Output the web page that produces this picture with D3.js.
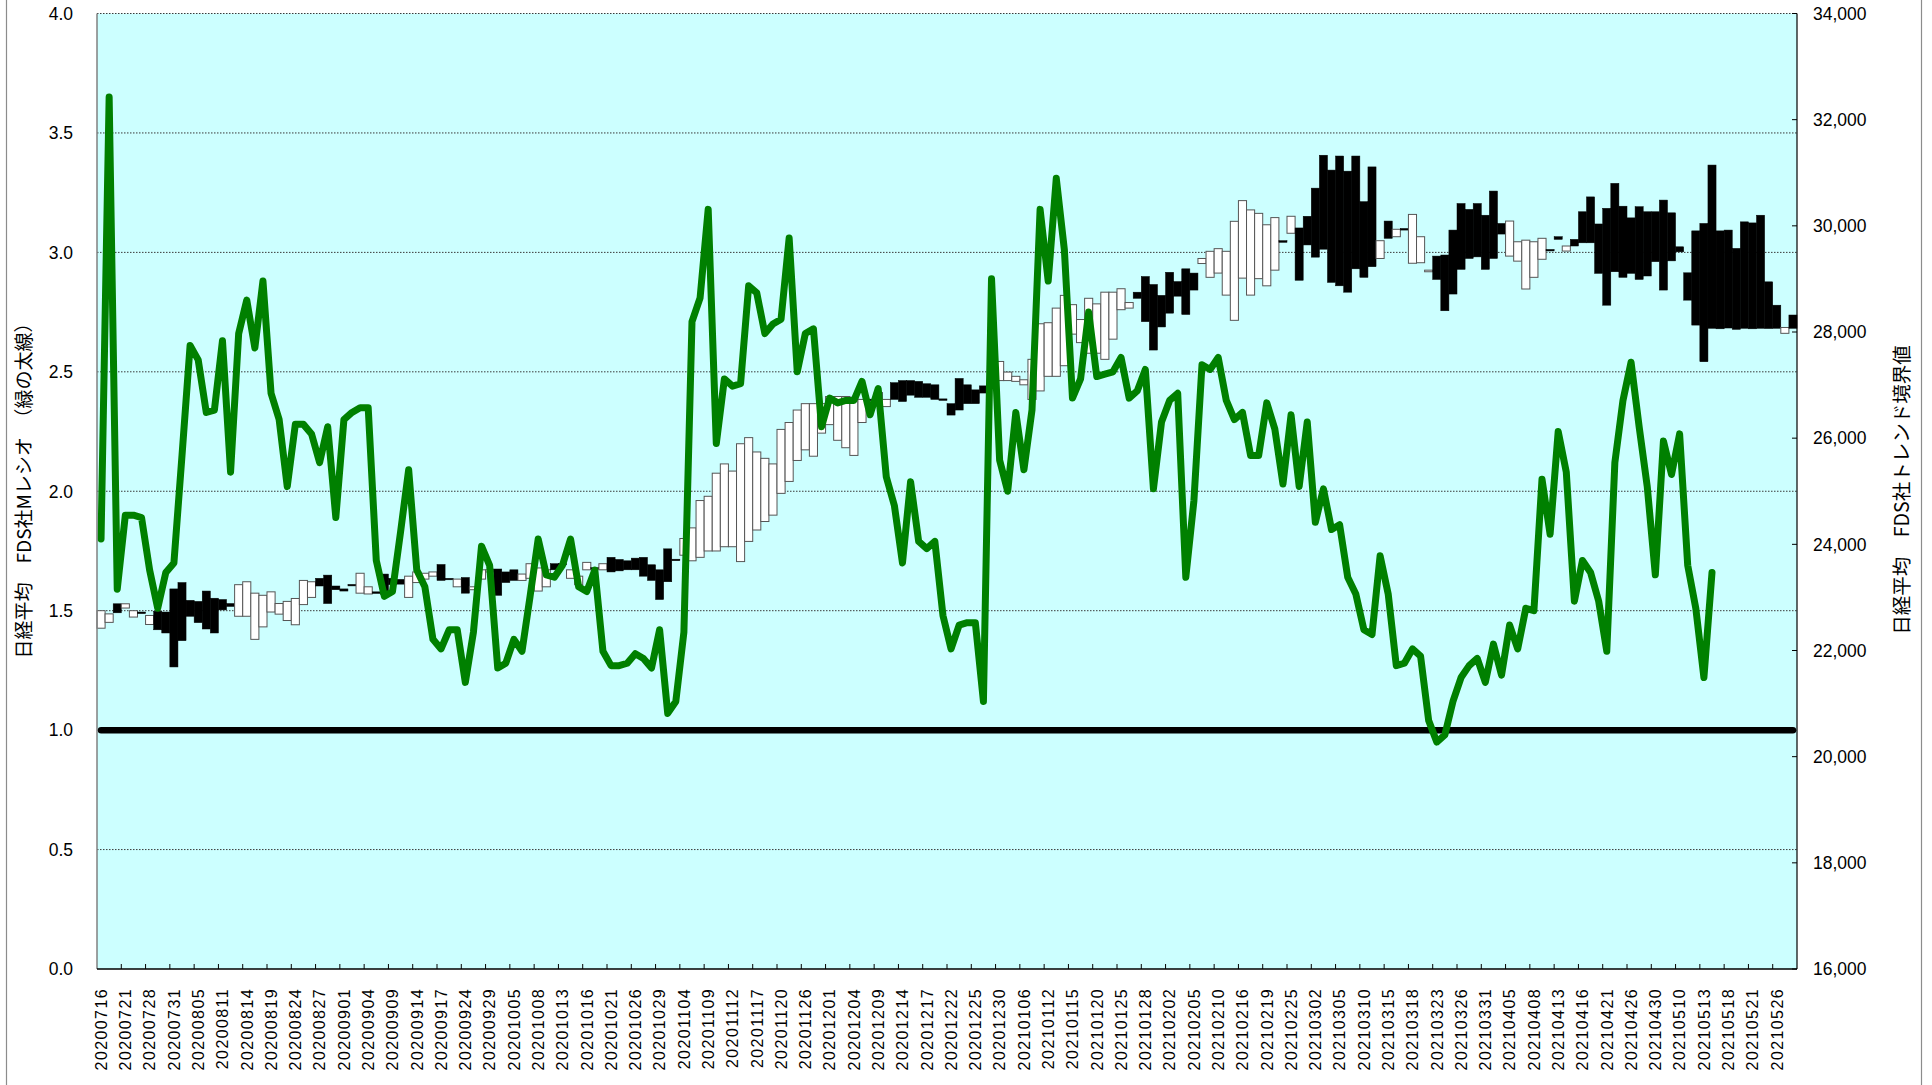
<!DOCTYPE html>
<html>
<head>
<meta charset="utf-8">
<script src="https://cdn.jsdelivr.net/npm/d3@7"></script>
<style>
  body { margin: 0; background: #fff; }
  svg { display: block; }
</style>
</head>
<body>
<div id="app"></div>
<script>
// trading days (categories)
const dates = [
  '20200716','20200717','20200720','20200721','20200722','20200727','20200728','20200729','20200730','20200731',
  '20200803','20200804','20200805','20200806','20200807','20200811','20200812','20200813','20200814','20200817',
  '20200818','20200819','20200820','20200821','20200824','20200825','20200826','20200827','20200828','20200831',
  '20200901','20200902','20200903','20200904','20200907','20200908','20200909','20200910','20200911','20200914',
  '20200915','20200916','20200917','20200918','20200923','20200924','20200925','20200928','20200929','20200930',
  '20201002','20201005','20201006','20201007','20201008','20201009','20201012','20201013','20201014','20201015',
  '20201016','20201019','20201020','20201021','20201022','20201023','20201026','20201027','20201028','20201029',
  '20201030','20201102','20201104','20201105','20201106','20201109','20201110','20201111','20201112','20201113',
  '20201116','20201117','20201118','20201119','20201120','20201124','20201125','20201126','20201127','20201130',
  '20201201','20201202','20201203','20201204','20201207','20201208','20201209','20201210','20201211','20201214',
  '20201215','20201216','20201217','20201218','20201221','20201222','20201223','20201224','20201225','20201228',
  '20201229','20201230','20210104','20210105','20210106','20210107','20210108','20210112','20210113','20210114',
  '20210115','20210118','20210119','20210120','20210121','20210122','20210125','20210126','20210127','20210128',
  '20210129','20210201','20210202','20210203','20210204','20210205','20210208','20210209','20210210','20210212',
  '20210215','20210216','20210217','20210218','20210219','20210222','20210224','20210225','20210226','20210301',
  '20210302','20210303','20210304','20210305','20210308','20210309','20210310','20210311','20210312','20210315',
  '20210316','20210317','20210318','20210319','20210322','20210323','20210324','20210325','20210326','20210329',
  '20210330','20210331','20210401','20210402','20210405','20210406','20210407','20210408','20210409','20210412',
  '20210413','20210414','20210415','20210416','20210419','20210420','20210421','20210422','20210423','20210426',
  '20210427','20210428','20210430','20210506','20210507','20210510','20210511','20210512','20210513','20210514',
  '20210517','20210518','20210519','20210520','20210521','20210524','20210525','20210526','20210527','20210528'
]

// bar start / end values (right axis)
const openVals = [
  22420,22530,22880,22800,22630,22725,22490,22740,22725,23160,
  23280,22945,22925,23120,22985,22960,22885,22645,22645,22210,
  22445,22725,22685,22565,22485,22865,23000,23360,23420,23215,
  23160,23245,23080,23065,23105,23440,23360,23340,23000,23280,
  23345,23400,23620,23360,23200,23375,23145,23345,23480,23535,
  23480,23520,23320,23360,23120,23200,23635,23640,23360,23240,
  23520,23560,23520,23755,23715,23690,23740,23755,23615,23520,
  23915,23720,23795,23690,23755,23875,23875,23955,23955,23675,
  24055,24270,24430,24550,24960,25185,25580,25780,25660,26095,
  26255,25960,25820,25675,26295,26735,26865,26595,27045,27085,
  27085,27070,27025,27005,26740,26650,27125,27005,26910,26985,
  27005,27085,27085,27070,27005,26730,26890,27165,27165,27365,
  27960,27800,27600,27600,27485,27865,28420,28450,28750,29045,
  28895,28690,29125,28950,29190,29110,29290,29030,29110,28695,
  28220,29015,28695,29005,28870,29165,29720,29860,29960,30180,
  30710,31330,31050,31315,31030,31315,30455,31110,29385,30090,
  29795,29950,29295,29305,29135,29430,29450,29920,30420,30310,
  30420,30200,30655,30045,29430,29335,28810,29030,29370,29555,
  29795,29525,29745,30265,30545,30035,30330,30800,30370,30150,
  30360,30265,30265,30485,30245,29605,29115,29905,30045,31145,
  29905,29920,29575,30075,30055,30200,28945,28505,27975,28320
]
const closeVals = [
  22750,22690,22710,22880,22750,22695,22660,22390,22330,21690,
  22185,22645,22525,22405,22330,22765,22830,23240,23295,23080,
  23040,23105,22885,22925,22980,23320,23295,23215,22885,23145,
  23120,23240,23455,23200,23075,23060,23240,23250,23400,23480,
  23455,23480,23320,23335,23345,23080,23200,23520,23520,23040,
  23280,23320,23440,23635,23555,23520,23520,23630,23520,23400,
  23660,23555,23635,23480,23500,23520,23520,23400,23320,22960,
  23295,23710,24110,24310,24825,24905,25340,25515,25380,25895,
  26010,25740,25620,25515,26165,26295,26530,26650,26650,26650,
  26785,26785,26785,26770,26730,26725,26650,26730,26730,26690,
  26810,26770,26770,26730,26720,26435,26530,26650,26650,26850,
  27365,27445,27245,27165,27100,27485,28155,28175,28450,28690,
  28515,28235,28635,28530,28750,28750,28815,28555,28635,28195,
  27660,28095,28355,28675,28330,28790,29385,29520,29570,29520,
  30085,30475,30300,30235,30020,30155,29690,30180,28975,29640,
  29410,29560,28935,28870,28750,29190,29030,29230,29720,29765,
  29935,29920,30215,29795,29165,28990,28400,28715,29180,29385,
  29415,29180,29385,29845,30090,29700,29730,29700,29765,29540,
  29745,29620,29620,29680,29680,29105,28505,29135,29030,29105,
  28990,29055,29325,28790,29340,29510,28600,28130,27440,28070,
  28060,28075,28050,28070,28060,28070,28065,28070,28085,28070
]

// M ratio (left axis, green)
const mRatio = [
  1.80,3.65,1.59,1.90,1.90,1.89,1.67,1.51,1.66,1.70,
  2.15,2.61,2.55,2.33,2.34,2.63,2.08,2.66,2.80,2.60,
  2.88,2.41,2.30,2.02,2.28,2.28,2.24,2.12,2.27,1.89,
  2.30,2.33,2.35,2.35,1.71,1.56,1.58,1.83,2.09,1.67,
  1.60,1.38,1.34,1.42,1.42,1.20,1.41,1.77,1.69,1.26,
  1.28,1.38,1.33,1.56,1.80,1.65,1.64,1.69,1.80,1.60,
  1.58,1.67,1.33,1.27,1.27,1.28,1.32,1.30,1.26,1.42,
  1.07,1.12,1.41,2.71,2.81,3.18,2.20,2.47,2.44,2.45,
  2.86,2.83,2.66,2.70,2.72,3.06,2.50,2.66,2.68,2.27,
  2.39,2.37,2.38,2.38,2.46,2.32,2.43,2.06,1.94,1.70,
  2.04,1.79,1.76,1.79,1.48,1.34,1.44,1.45,1.45,1.12,
  2.89,2.13,2.00,2.33,2.09,2.34,3.18,2.88,3.31,3.01,
  2.39,2.47,2.75,2.48,2.49,2.50,2.56,2.39,2.42,2.51,
  2.01,2.29,2.38,2.41,1.64,1.96,2.53,2.51,2.56,2.38,
  2.30,2.33,2.15,2.15,2.37,2.26,2.03,2.32,2.02,2.29,
  1.87,2.01,1.84,1.86,1.64,1.57,1.42,1.40,1.73,1.57,
  1.27,1.28,1.34,1.31,1.04,0.95,0.98,1.12,1.22,1.27,
  1.30,1.20,1.36,1.23,1.44,1.34,1.51,1.50,2.05,1.82,
  2.25,2.08,1.54,1.71,1.66,1.54,1.33,2.12,2.38,2.54,
  2.27,2.02,1.65,2.21,2.07,2.24,1.69,1.51,1.22,1.66
]

const baseLevel = 1.0
const leftTicks = [0, 0.5, 1, 1.5, 2, 2.5, 3, 3.5, 4]
const rightTicks = [16000, 18000, 20000, 22000, 24000, 26000, 28000, 30000, 32000, 34000]
const leftTitle = '日経平均　FDS社Mレシオ　（緑の太線）'
const rightTitle = '日経平均　FDS社トレンド境界値'

const w = 1932
const h = 1085
const padLeft = 97, padRight = 1797, padTop = 13.5, padBottom = 969
const numFont = '"Liberation Sans", Arial, sans-serif'
const jpFont = '"Noto Sans CJK JP", "Noto Sans", sans-serif'

const svg = d3.select('#app').append('svg')
              .attr('width', w)
              .attr('height', h)

// chart frame
svg.append('rect')
   .attr('x', 6.5).attr('y', -5)
   .attr('width', 1915).attr('height', h + 10)
   .attr('fill', '#fff')
   .attr('stroke', '#8c8c8c')
   .attr('stroke-width', 1.2)

// plot background
svg.append('rect')
   .attr('x', padLeft).attr('y', padTop)
   .attr('width', padRight - padLeft).attr('height', padBottom - padTop)
   .attr('fill', '#ccffff')

const x = d3.scaleBand().domain(dates).range([padLeft, padRight])
const bw = x.bandwidth()
const cx = d => x(d) + bw / 2
const yL = d3.scaleLinear().domain([0, 4]).range([padBottom, padTop])
const yR = d3.scaleLinear().domain([16000, 34000]).range([padBottom, padTop])

// grid
svg.append('g').selectAll('line')
   .data(leftTicks.filter(v => v > 0))
   .enter().append('line')
   .attr('x1', padLeft).attr('x2', padRight)
   .attr('y1', d => yL(d)).attr('y2', d => yL(d))
   .attr('stroke', '#3a3a3a')
   .attr('stroke-width', 1)
   .attr('stroke-dasharray', '1.5,1.5')

// bars
const bars = dates.map((d, i) => ({ d: d, o: openVals[i], c: closeVals[i] }))
svg.append('g').selectAll('rect')
   .data(bars)
   .enter().append('rect')
   .attr('x', b => x(b.d))
   .attr('width', bw)
   .attr('y', b => yR(Math.max(b.o, b.c)))
   .attr('height', b => Math.max(1.5, Math.abs(yR(b.o) - yR(b.c))))
   .attr('fill', b => b.c > b.o ? '#fff' : '#000')
   .attr('stroke', b => b.c > b.o ? '#555' : '#000')
   .attr('stroke-width', b => b.c > b.o ? 1 : 0.5)

// 1.0 line
const flatLine = d3.line()
                   .x(d => cx(d))
                   .y(() => yL(baseLevel))
svg.append('path')
   .datum(dates)
   .attr('d', flatLine)
   .attr('fill', 'none')
   .attr('stroke', '#000')
   .attr('stroke-width', 6.5)
   .attr('stroke-linecap', 'round')

// M ratio line
const ratioLine = d3.line()
                    .x((d, i) => cx(dates[i]))
                    .y(d => yL(d))
svg.append('path')
   .datum(mRatio)
   .attr('d', ratioLine)
   .attr('fill', 'none')
   .attr('stroke', '#008000')
   .attr('stroke-width', 7)
   .attr('stroke-linejoin', 'round')
   .attr('stroke-linecap', 'round')

// axis lines
svg.append('line').attr('x1', padLeft).attr('x2', padLeft).attr('y1', padTop).attr('y2', padBottom)
   .attr('stroke', '#808080').attr('stroke-width', 1.5)
svg.append('line').attr('x1', padRight).attr('x2', padRight).attr('y1', padTop).attr('y2', padBottom)
   .attr('stroke', '#000').attr('stroke-width', 1.2)
svg.append('line').attr('x1', padLeft).attr('x2', padRight).attr('y1', padBottom).attr('y2', padBottom)
   .attr('stroke', '#000').attr('stroke-width', 1.5)

// bottom ticks every 3 categories
svg.append('g').selectAll('line')
   .data(dates.filter((d, i) => i % 3 === 0 && i > 0))
   .enter().append('line')
   .attr('x1', d => x(d)).attr('x2', d => x(d))
   .attr('y1', padBottom).attr('y2', padBottom - 5)
   .attr('stroke', '#000')

// right ticks
svg.append('g').selectAll('line')
   .data(rightTicks)
   .enter().append('line')
   .attr('x1', padRight - 5).attr('x2', padRight)
   .attr('y1', d => yR(d)).attr('y2', d => yR(d))
   .attr('stroke', '#000')

// tick labels
svg.append('g').selectAll('text')
   .data(leftTicks)
   .enter().append('text')
   .attr('x', 73).attr('y', d => yL(d))
   .attr('dy', '0.36em')
   .attr('text-anchor', 'end')
   .style('font-family', numFont)
   .style('font-size', '17.5px')
   .text(d => d.toFixed(1))

svg.append('g').selectAll('text')
   .data(rightTicks)
   .enter().append('text')
   .attr('x', 1813).attr('y', d => yR(d))
   .attr('dy', '0.36em')
   .attr('text-anchor', 'start')
   .style('font-family', numFont)
   .style('font-size', '17.5px')
   .text(d => d3.format(',')(d))

svg.append('g').selectAll('text')
   .data(dates.filter((d, i) => i % 3 === 0))
   .enter().append('text')
   .attr('transform', d => 'translate(' + cx(d) + ',' + 988 + ') rotate(-90)')
   .attr('dy', '0.36em')
   .attr('text-anchor', 'end')
   .style('font-family', numFont)
   .style('font-size', '16px')
   .style('letter-spacing', '1.4px')
   .text(d => d)

// axis titles
svg.append('text')
   .attr('transform', 'translate(24,486) rotate(-90)')
   .attr('dy', '0.36em')
   .attr('text-anchor', 'middle')
   .style('font-family', jpFont)
   .style('font-size', '19px')
   .text(leftTitle)

svg.append('text')
   .attr('transform', 'translate(1902,490) rotate(-90)')
   .attr('dy', '0.36em')
   .attr('text-anchor', 'middle')
   .style('font-family', jpFont)
   .style('font-size', '19.5px')
   .text(rightTitle)
</script>
</body>
</html>
